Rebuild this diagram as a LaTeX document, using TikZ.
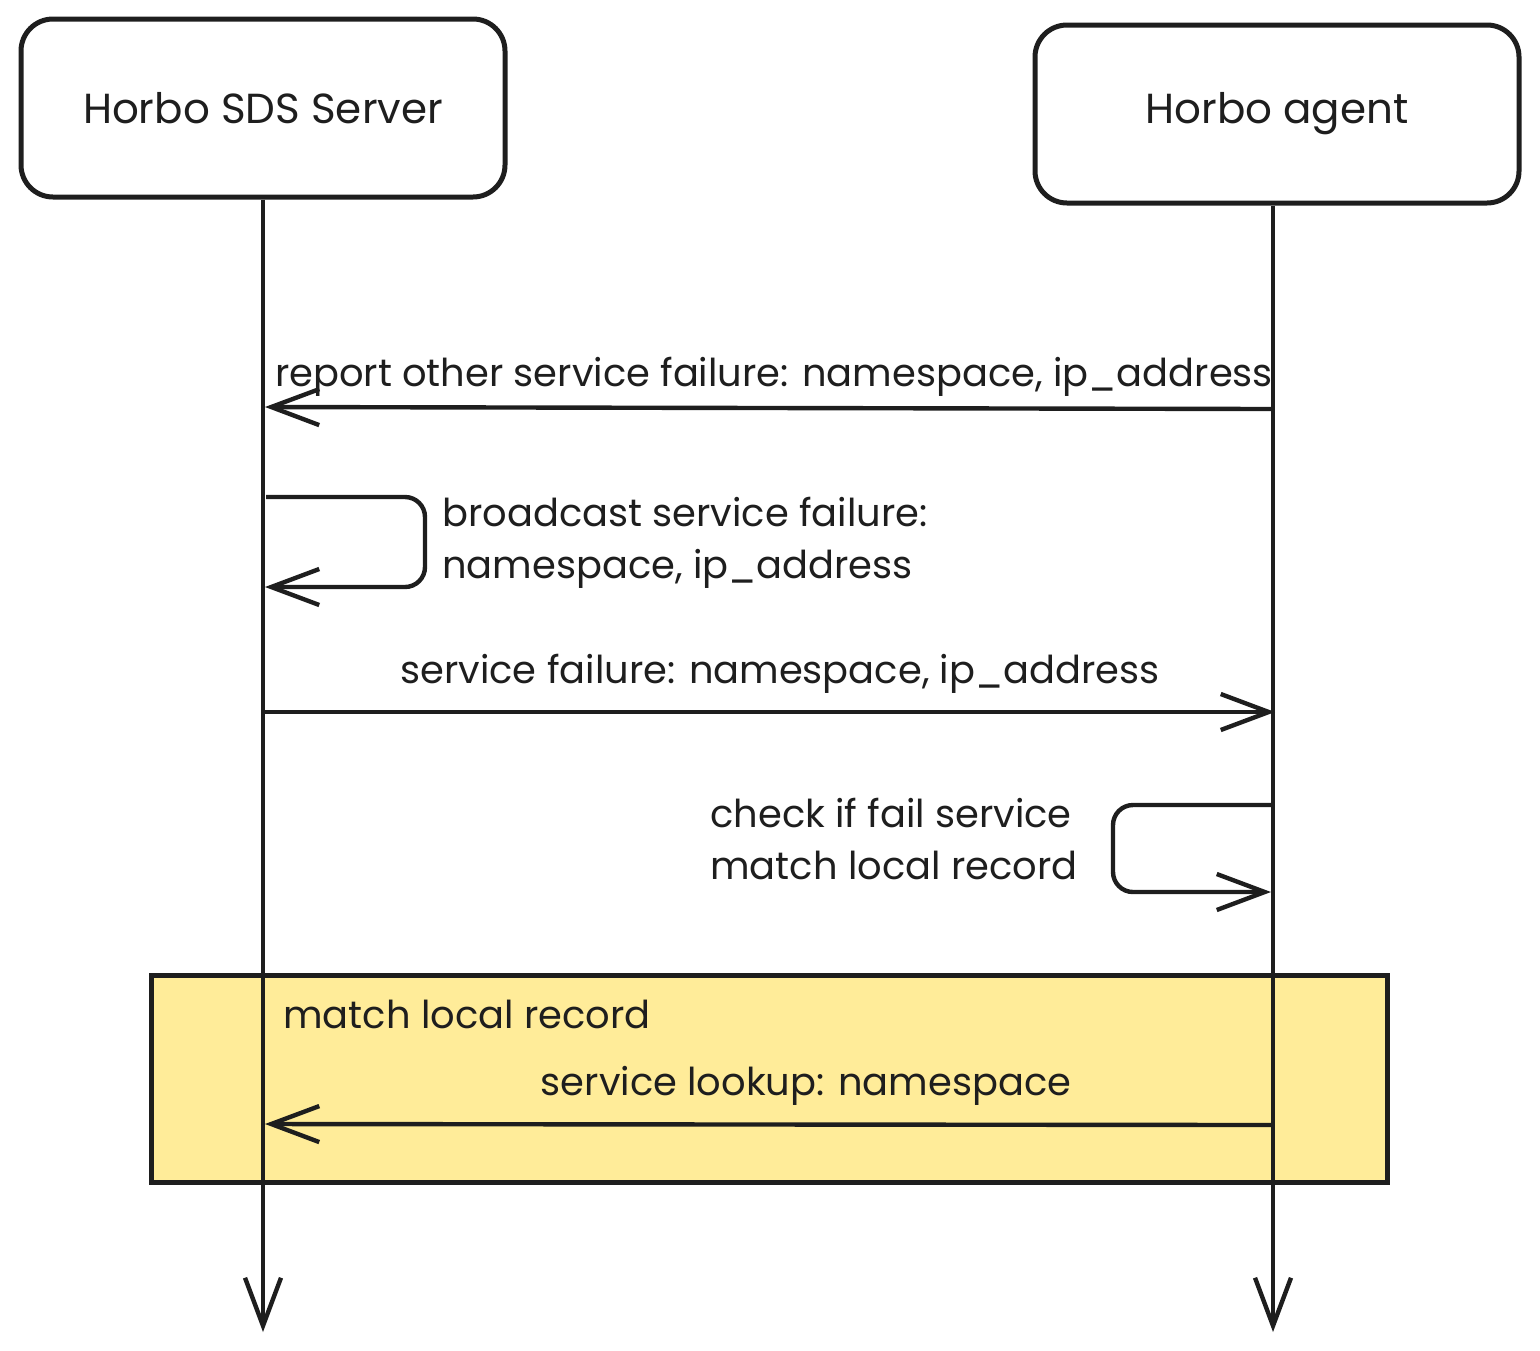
\documentclass[tikz,border=0pt]{standalone}
\usepackage{fontspec}
\setmainfont{Poppins}
\usepackage{tikz}
\usetikzlibrary{arrows.meta,positioning}
\definecolor{ink}{HTML}{1E1E1E}
\definecolor{note}{HTML}{FFEC99}

\begin{document}
\begin{tikzpicture}[
  x=0.5pt, y=-0.5pt,
  every node/.style = {font=\fontsize{19.2}{26}\selectfont, text=ink},
  actor/.style = {draw=ink, line width=2.5pt, rounded corners=16pt, minimum width=242pt, minimum height=89pt, font=\fontsize{21}{26}\selectfont},
  life/.style = {draw=ink, line width=1.6pt, -{Straight Barb[length=24pt, width=18pt, line width=2.2pt]}},
  msg/.style = {draw=ink, line width=2.2pt, -{Straight Barb[length=24pt, width=18pt]}},
  lbl/.style = {anchor=base, inner sep=0pt},
  lbl2/.style = {anchor=base west, inner sep=0pt, align=left}
]
  \useasboundingbox (0,0) rectangle (1540,1350);
  \fill[note] (151,975) rectangle (1387,1182);
  \draw[ink, line width=2.5pt] (151,975) rectangle (1387,1182);

  \node[actor] (srv) at (263,108) {Horbo SDS Server};
  \node[actor] (agt) at (1277,114) {Horbo agent};

  \coordinate (srvEnd) at (263,1332);
  \coordinate (agtEnd) at (1273,1332);
  \draw[life] (srv.south) -- (srvEnd);
  \draw[life] (agt.south -| agtEnd) -- (agtEnd);

  \coordinate (m1a) at (1271,409);
  \coordinate (m1b) at (265,407);
  \draw[msg] (m1a) -- (m1b);
  \node[lbl] (m1) at (774,386) {report other service failure: namespace, ip\_address};

  \coordinate (l1a) at (266,497);
  \coordinate (l1b) at (265,587);
  \draw[msg, rounded corners=10pt] (l1a) -- ++(159,0) |- (l1b);
  \node[lbl2] (l1) at (442,578) {broadcast service failure:\\namespace, ip\_address};

  \coordinate (m2a) at (264,712);
  \coordinate (m2b) at (1275,712);
  \draw[msg] (m2a) -- (m2b);
  \node[lbl] (m2) at (780,683) {service failure: namespace, ip\_address};

  \coordinate (l2a) at (1271,805);
  \coordinate (l2b) at (1271,892);
  \draw[msg, rounded corners=10pt] (l2a) -- ++(-158,0) |- (l2b);
  \node[lbl2] (l2) at (710,879) {check if fail service\\match local record};

  \node[lbl2] (grp) at (283,1028) {match local record};
  \coordinate (m3a) at (1271,1125);
  \coordinate (m3b) at (265,1124);
  \draw[msg] (m3a) -- (m3b);
  \node[lbl] (m3) at (806,1095) {service lookup: namespace};
\end{tikzpicture}
\end{document}
